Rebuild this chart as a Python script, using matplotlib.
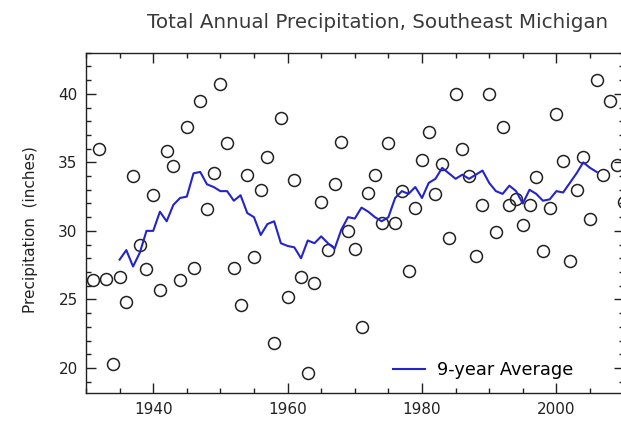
import matplotlib
matplotlib.use("Agg")
import matplotlib.pyplot as plt
from matplotlib.ticker import MultipleLocator

# annual totals, 1931-2010 (inches)
years = list(range(1931, 2011))
precip = [
    26.4, 36.0, 26.5, 20.3, 26.6, 24.8, 34.0, 29.0, 27.2, 32.6,
    25.7, 35.8, 34.7, 26.4, 37.6, 27.3, 39.5, 31.6, 34.2, 40.7,
    36.4, 27.3, 24.6, 34.1, 28.1, 33.0, 35.4, 21.8, 38.2, 25.2,
    33.7, 26.6, 19.6, 26.2, 32.1, 28.6, 33.4, 36.5, 30.0, 28.7,
    23.0, 32.8, 34.1, 30.6, 36.4, 30.6, 32.9, 27.1, 31.7, 35.2,
    37.2, 32.7, 34.9, 29.5, 40.0, 36.0, 34.0, 28.2, 31.9, 40.0,
    29.9, 37.6, 31.9, 32.3, 30.4, 31.9, 33.9, 28.5, 31.7, 38.5,
    35.1, 27.8, 33.0, 35.4, 30.9, 41.0, 34.1, 39.5, 34.8, 32.1,
]

# 9-year average, 1935-2006
avg_years = list(range(1935, 2007))
avg9 = [
    27.9, 28.6, 27.4, 28.4, 30.0, 30.0, 31.4, 30.7, 31.9, 32.4,
    32.5, 34.2, 34.3, 33.4, 33.2, 32.9, 32.9, 32.2, 32.6, 31.3,
    31.0, 29.7, 30.5, 30.7, 29.1, 28.9, 28.8, 28.0, 29.3, 29.1,
    29.6, 29.1, 28.7, 30.1, 31.0, 30.9, 31.7, 31.4, 31.0, 30.7,
    31.0, 32.4, 32.9, 32.7, 33.2, 32.4, 33.5, 33.8, 34.6, 34.2,
    33.8, 34.1, 33.8, 34.1, 34.4, 33.5, 32.9, 32.7, 33.3, 32.9,
    32.0, 33.0, 32.7, 32.2, 32.3, 32.9, 32.8, 33.5, 34.2, 35.0,
    34.6, 34.3,
]

fig = plt.figure(figsize=(6.21, 4.25), dpi=100)
# axes run slightly past the right edge, as in the cropped original
ax = fig.add_axes([86 / 621, 31.7 / 425, 537.6 / 621, 340.6 / 425])

ax.plot(years, precip, linestyle="none", marker="o", markersize=8.6,
        markerfacecolor="none", markeredgecolor="#222222",
        markeredgewidth=1.1, clip_on=False)
ax.plot(avg_years, avg9, color="#2424cc", linewidth=1.5,
        label="9-year Average")

ax.set_xlim(1930, 2010)
ax.set_ylim(18.15, 43.0)

ax.xaxis.set_major_locator(MultipleLocator(20))
ax.xaxis.set_minor_locator(MultipleLocator(5))
ax.yaxis.set_major_locator(MultipleLocator(5))
ax.yaxis.set_minor_locator(MultipleLocator(1))
ax.tick_params(which="both", direction="in", top=True, right=True,
               color="#222222", width=1.0)
ax.tick_params(which="major", length=7, labelsize=11, pad=6,
               labelcolor="#222222")
ax.tick_params(which="minor", length=3.5)
for s in ax.spines.values():
    s.set_color("#222222")
    s.set_linewidth(1.0)

ax.set_ylabel("Precipitation  (inches)", fontsize=11, color="#222222")
ax.yaxis.set_label_coords(-0.089, 0.48)

fig.text(378 / 621, 0.948, "Total Annual Precipitation, Southeast Michigan",
         ha="center", va="center", fontsize=14.3, color="#3a3a3a")

ax.legend(loc="center left", bbox_to_anchor=(0.571, 0.068), frameon=False,
          borderpad=0, borderaxespad=0, handlelength=1.8,
          handletextpad=0.65, fontsize=12.8)

fig.savefig("out.png", dpi=100)
